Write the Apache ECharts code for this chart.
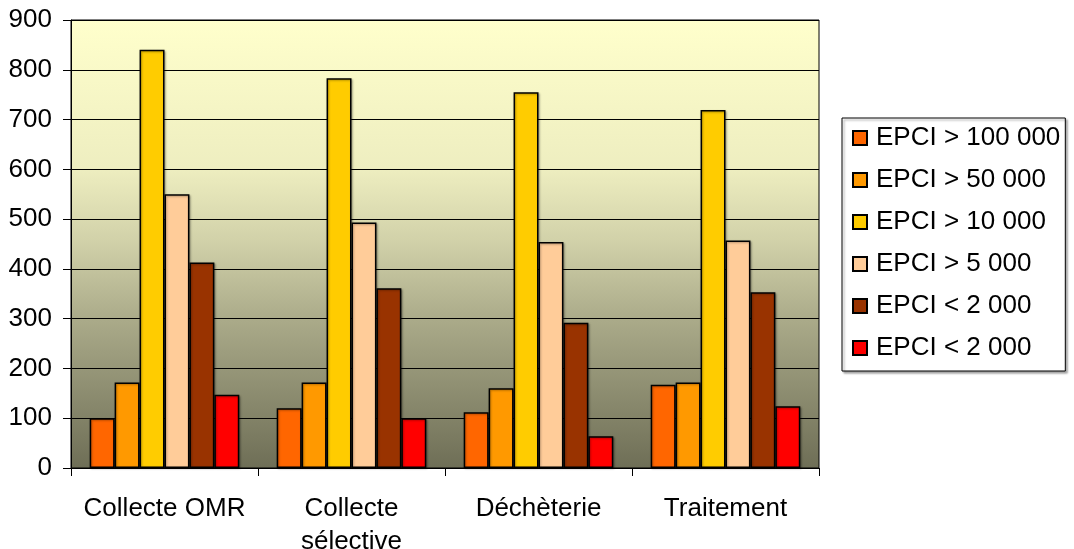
<!DOCTYPE html>
<html>
<head>
<meta charset="utf-8">
<script src="https://cdn.jsdelivr.net/npm/echarts@6/dist/echarts.min.js"></script>
<style>
  html, body { margin: 0; padding: 0; background: #fff; }
  #chart { width: 1074px; height: 549px; }
</style>
</head>
<body>
<div id="chart"></div>
<script>
  // categories and series values
  var categories = ['Collecte OMR', 'Collecte\nsélective', 'Déchèterie', 'Traitement'];
  var seriesNames = ['EPCI > 100 000', 'EPCI > 50 000', 'EPCI > 10 000', 'EPCI > 5 000', 'EPCI < 2 000', 'EPCI < 2 000 '];
  var epci100k = [100, 120, 112, 167];
  var epci50k = [172, 172, 160, 172];
  var epci10k = [840, 783, 755, 719];
  var epci5k = [550, 493, 454, 457];
  var epci2kA = [413, 361, 292, 353];
  var epci2kB = [147, 100, 64, 124];
  var colors = ['#FF6600', '#FF9900', '#FFCC00', '#FFCC99', '#993300', '#FF0000'];
  var values = [epci100k, epci50k, epci10k, epci5k, epci2kA, epci2kB];

  var font = 'Liberation Sans, Arial, sans-serif';
  var myChart = echarts.init(document.getElementById('chart'));

  var series = [];
  for (var i = 0; i < values.length; i++) {
    series.push({
      name: seriesNames[i],
      type: 'bar',
      data: values[i],
      barGap: '0%',
      barCategoryGap: '20%',
      itemStyle: {
        color: colors[i],
        borderColor: '#000',
        borderWidth: 1.5,
        shadowColor: 'rgba(0,0,0,0.3)',
        shadowOffsetX: 1,
        shadowOffsetY: 1,
        shadowBlur: 2
      }
    });
  }

  myChart.setOption({
    animation: false,
    textStyle: { fontFamily: font },
    grid: {
      left: 71, top: 20, right: 255, bottom: 81,
      outerBoundsMode: 'none',
      containLabel: false,
      show: true,
      borderColor: '#000',
      borderWidth: 1,
      backgroundColor: new echarts.graphic.LinearGradient(0, 0, 0, 1, [
        { offset: 0, color: '#FFFFCC' },
        { offset: 0.33, color: '#EEEEC0' },
        { offset: 0.5, color: '#D0D0A8' },
        { offset: 0.67, color: '#AAAA89' },
        { offset: 1, color: '#6E6E56' }
      ])
    },
    legend: {
      orient: 'vertical',
      left: 842,
      top: 118,
      padding: [5, 5, 8, 10],
      itemGap: 12,
      itemWidth: 14,
      itemHeight: 14,
      icon: 'rect',
      borderColor: '#000',
      borderWidth: 1,
      backgroundColor: '#fff',
      shadowColor: 'rgba(0,0,0,0.35)',
      shadowOffsetX: 2,
      shadowOffsetY: 2,
      shadowBlur: 2,
      textStyle: {
        fontFamily: font,
        fontSize: 26,
        color: '#000',
        lineHeight: 30,
        padding: [0, 0, 0, 4]
      },
      data: seriesNames
    },
    xAxis: {
      type: 'category',
      data: categories,
      axisLine: { lineStyle: { color: '#000', width: 1 } },
      axisTick: { show: true, length: 8, lineStyle: { color: '#000' } },
      axisLabel: {
        interval: 0,
        color: '#000',
        fontFamily: font,
        fontSize: 26,
        lineHeight: 33,
        margin: 24
      }
    },
    yAxis: {
      type: 'value',
      min: 0,
      max: 900,
      interval: 100,
      axisLine: { show: true, lineStyle: { color: '#000', width: 1 } },
      axisTick: { show: true, length: 8, lineStyle: { color: '#000' } },
      axisLabel: {
        color: '#000',
        fontFamily: font,
        fontSize: 26,
        margin: 19
      },
      splitLine: { show: true, lineStyle: { color: '#000', width: 1 } }
    },
    series: series
  });
</script>
</body>
</html>
